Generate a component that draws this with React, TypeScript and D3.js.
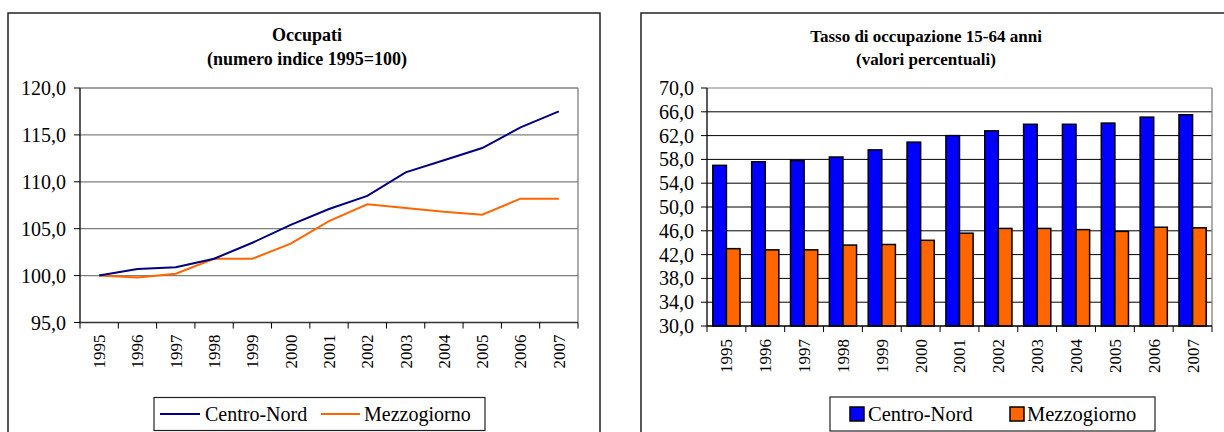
import React from "react";
import * as d3 from "d3";

const years = ["1995","1996","1997","1998","1999","2000","2001","2002","2003","2004","2005","2006","2007"];
const occCentroNord = [100.0,100.7,100.9,101.8,103.5,105.4,107.1,108.5,111.0,112.3,113.6,115.8,117.5];
const occMezzogiorno = [100.0,99.8,100.2,101.8,101.8,103.4,105.8,107.6,107.2,106.8,106.5,108.2,108.2];
const tassoCentroNord = [57.0,57.6,57.8,58.4,59.6,60.9,62.0,62.8,63.9,63.9,64.1,65.1,65.5];
const tassoMezzogiorno = [43.0,42.8,42.8,43.6,43.7,44.4,45.6,46.4,46.4,46.2,45.9,46.6,46.5];
const leftTicks = [95,100,105,110,115,120];
const rightTicks = [30,34,38,42,46,50,54,58,62,66,70];

const FONT = "'Liberation Serif', 'Times New Roman', 'DejaVu Serif', serif";
const fmt = (v: number) => v.toFixed(1).replace(".", ",");
const T = (size: number, bold = false): React.CSSProperties => ({ fontFamily: FONT, fontSize: size, fontWeight: bold ? "bold" : "normal" });

function LeftChart() {
  const x0 = 80, x1 = 578, yTop = 88, yBot = 322.5;
  const x = d3.scaleBand().domain(years).range([x0, x1]);
  const y = d3.scaleLinear().domain([95, 120]).range([yBot, yTop]);
  const line = d3.line<number>().x((_, i) => (x(years[i]) as number) + x.bandwidth() / 2).y(d => y(d));
  return (
    <g>
      <rect x={8} y={13} width={592} height={440} fill="white" stroke="#222" strokeWidth={1.5} />
      <text x={307} y={41} textAnchor="middle" style={T(18, true)}>Occupati</text>
      <text x={307} y={65} textAnchor="middle" style={T(18, true)}>(numero indice 1995=100)</text>
      {leftTicks.map(t => (
        <g key={t}>
          {t !== 95 && <line x1={x0} x2={x1} y1={y(t)} y2={y(t)} stroke="#808080" strokeWidth={1.3} />}
          <line x1={x0 - 6} x2={x0} y1={y(t)} y2={y(t)} stroke="#000" />
          <text x={x0 - 14} y={y(t)} dy="0.35em" textAnchor="end" style={T(20)}>{fmt(t)}</text>
        </g>
      ))}
      <line x1={x1} x2={x1} y1={yTop} y2={yBot} stroke="#808080" strokeWidth={1.3} />
      <line x1={x0} x2={x0} y1={yTop} y2={yBot} stroke="#000" strokeWidth={1.3} />
      <line x1={x0} x2={x1} y1={yBot} y2={yBot} stroke="#333" strokeWidth={1.6} />
      {years.map((yr) => (
        <g key={yr}>
          <line x1={(x(yr) as number)} x2={(x(yr) as number)} y1={yBot} y2={yBot + 6} stroke="#000" />
          <text transform={`translate(${(x(yr) as number) + x.bandwidth() / 2},${yBot + 12}) rotate(-90)`} dy="0.35em" textAnchor="end" style={T(17)}>{yr}</text>
        </g>
      ))}
      <line x1={x1} x2={x1} y1={yBot} y2={yBot + 6} stroke="#000" />
      <path d={line(occMezzogiorno) || ""} fill="none" stroke="#FF6600" strokeWidth={2} />
      <path d={line(occCentroNord) || ""} fill="none" stroke="#000080" strokeWidth={2} />
      <rect x={154} y={397.5} width={331} height={33} fill="white" stroke="#222" strokeWidth={1.2} />
      <line x1={160} x2={200} y1={414} y2={414} stroke="#000080" strokeWidth={2} />
      <text x={205} y={414} dy="0.35em" style={T(20)}>Centro-Nord</text>
      <line x1={321} x2={360} y1={414} y2={414} stroke="#FF6600" strokeWidth={2} />
      <text x={364} y={414} dy="0.35em" style={T(20)}>Mezzogiorno</text>
    </g>
  );
}

function RightChart() {
  const x0 = 707, x1 = 1212, yTop = 88, yBot = 326;
  const x = d3.scaleBand().domain(years).range([x0, x1]);
  const y = d3.scaleLinear().domain([30, 70]).range([yBot, yTop]);
  const bw = x.bandwidth() * 0.35;
  const off = (x.bandwidth() - 2 * bw) / 2;
  return (
    <g>
      <rect x={641} y={13} width={600} height={440} fill="white" stroke="#222" strokeWidth={1.5} />
      <text x={926} y={42} textAnchor="middle" style={T(17, true)}>Tasso di occupazione 15-64 anni</text>
      <text x={926} y={65} textAnchor="middle" style={T(17, true)}>(valori percentuali)</text>
      {rightTicks.map(t => (
        <g key={t}>
          {t !== 30 && <line x1={x0} x2={x1} y1={y(t)} y2={y(t)} stroke={t === 70 ? "#808080" : "#000"} strokeWidth={1} />}
          <line x1={x0 - 6} x2={x0} y1={y(t)} y2={y(t)} stroke="#000" />
          <text x={x0 - 13} y={y(t)} dy="0.35em" textAnchor="end" style={T(20)}>{fmt(t)}</text>
        </g>
      ))}
      <line x1={x1} x2={x1} y1={yTop} y2={yBot} stroke="#808080" strokeWidth={1.3} />
      {years.map((yr, i) => {
        const bx = x(yr) as number;
        return (
          <g key={yr}>
            <rect x={bx + off} y={y(tassoCentroNord[i])} width={bw} height={yBot - y(tassoCentroNord[i])} fill="#0000FF" stroke="#000" strokeWidth={1.5} />
            <rect x={bx + off + bw} y={y(tassoMezzogiorno[i])} width={bw} height={yBot - y(tassoMezzogiorno[i])} fill="#FF6600" stroke="#000" strokeWidth={1.5} />
            <line x1={bx} x2={bx} y1={yBot} y2={yBot + 6} stroke="#000" />
            <text transform={`translate(${bx + x.bandwidth() / 2},${yBot + 13}) rotate(-90)`} dy="0.35em" textAnchor="end" style={T(17)}>{yr}</text>
          </g>
        );
      })}
      <line x1={x1} x2={x1} y1={yBot} y2={yBot + 6} stroke="#000" />
      <line x1={x0} x2={x0} y1={yTop} y2={yBot} stroke="#000" strokeWidth={1.3} />
      <line x1={x0} x2={x1} y1={yBot} y2={yBot} stroke="#000" strokeWidth={1.6} />
      <rect x={830} y={397} width={325} height={34} fill="white" stroke="#222" strokeWidth={1.2} />
      <rect x={850} y={407} width={14} height={14} fill="#0000FF" stroke="#000" strokeWidth={1.5} />
      <text x={868} y={414} dy="0.35em" style={T(20.5)}>Centro-Nord</text>
      <rect x={1010} y={407} width={14} height={14} fill="#FF6600" stroke="#000" strokeWidth={1.5} />
      <text x={1027} y={414} dy="0.35em" style={T(20.5)}>Mezzogiorno</text>
    </g>
  );
}

export default function App() {
  return (
    <svg width={1224} height={432} style={{ position: "absolute", left: 0, top: 0, background: "white" }}>
      <rect x={0} y={0} width={1224} height={432} fill="white" />
      <LeftChart />
      <RightChart />
    </svg>
  );
}
